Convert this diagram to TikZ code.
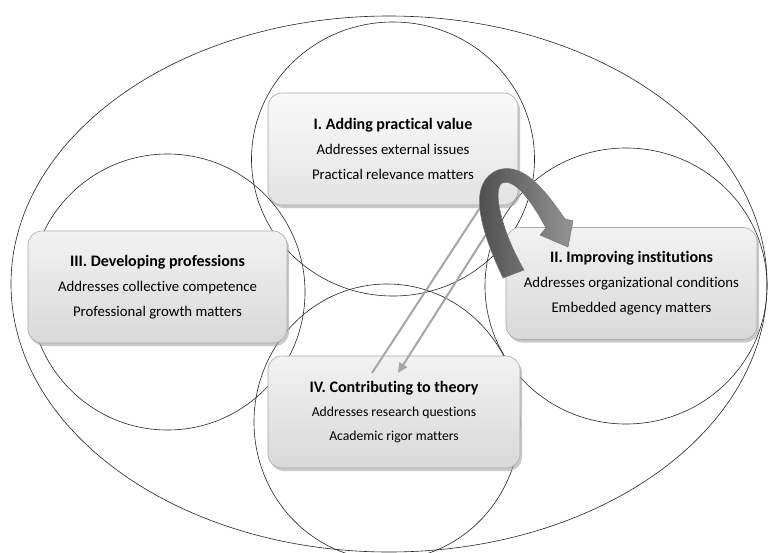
\documentclass[tikz,border=0pt]{standalone}
\usepackage{fontspec}
\setmainfont{Carlito}[Ligatures={NoCommon}]
\usetikzlibrary{shadows,arrows.meta}
\definecolor{boxline}{HTML}{A8A8A8}
\definecolor{thinarrow}{HTML}{A6A6A6}
\tikzset{
  ring/.style={draw=black!85, line width=0.6pt},
  infobox/.style={draw=boxline, line width=0.6pt, rounded corners=14pt,
    top color=black!5, bottom color=black!15,
    minimum width=251pt, minimum height=112pt, align=center,
    font=\fontsize{14.8}{25}\selectfont,
    drop shadow={shadow xshift=2pt, shadow yshift=-3pt, fill=black!35, opacity=0.6}},
  thin/.style={draw=thinarrow, line width=2pt, -{Triangle[length=10pt,width=9pt]}},
}
\newcommand{\bxtitle}[1]{{\bfseries\fontsize{16}{25}\selectfont #1}}
\begin{document}
\begin{tikzpicture}[x=1pt,y=-1pt]
\useasboundingbox (0,0) rectangle (768,552);
\fill[white] (0,0) rectangle (768,552);
% rings
\draw[ring] (389,284) ellipse [x radius=378, y radius=268];
\draw[ring] (393,159) ellipse [x radius=141.5, y radius=137];
\draw[ring] (167.5,292) ellipse [x radius=137.5, y radius=138];
\draw[ring] (626,286) ellipse [x radius=141, y radius=138];
\draw[ring] (387,422) ellipse [x radius=133, y radius=138];
% boxes
\node[infobox, top color=black!2, bottom color=black!11, minimum width=250pt] (b1) at (393,149)
  {\bxtitle{I. Adding practical value}\\ Addresses external issues\\ Practical relevance matters};
\node[infobox, minimum width=259pt] (b3) at (157.5,287)
  {\bxtitle{III. Developing professions}\\ Addresses collective competence\\ Professional growth matters};
\node[infobox] (b2) at (631.5,283.5)
  {\bxtitle{II. Improving institutions}\\ Addresses organizational conditions\\ Embedded agency matters};
\node[infobox, minimum width=252pt, font=\fontsize{13.7}{24}\selectfont] (b4) at (394,412)
  {\bxtitle{IV. Contributing to theory}\\ Addresses research questions\\ Academic rigor matters};
% thin arrows
\coordinate (p1) at (372,373);
\coordinate (q1) at (489,194);
\coordinate (p2) at (494,222);
\coordinate (q2) at (398,373);
\draw[thin] (p1) -- (q1);
\draw[thin] (p2) -- (q2);
% big curved arrow
\shade[left color=black!72, right color=black!42, draw=black!55, line width=0.5pt]
  (503,278) .. controls (478,225) and (468,182) .. (498,170)
  .. controls (525,161) and (548,195) .. (565,219)
  -- (573,221) -- (568,247) -- (540,235) -- (546,228)
  .. controls (532,202) and (515,178) .. (502,183)
  .. controls (492,190) and (502,232) .. (524,270) -- cycle;
\end{tikzpicture}
\end{document}
